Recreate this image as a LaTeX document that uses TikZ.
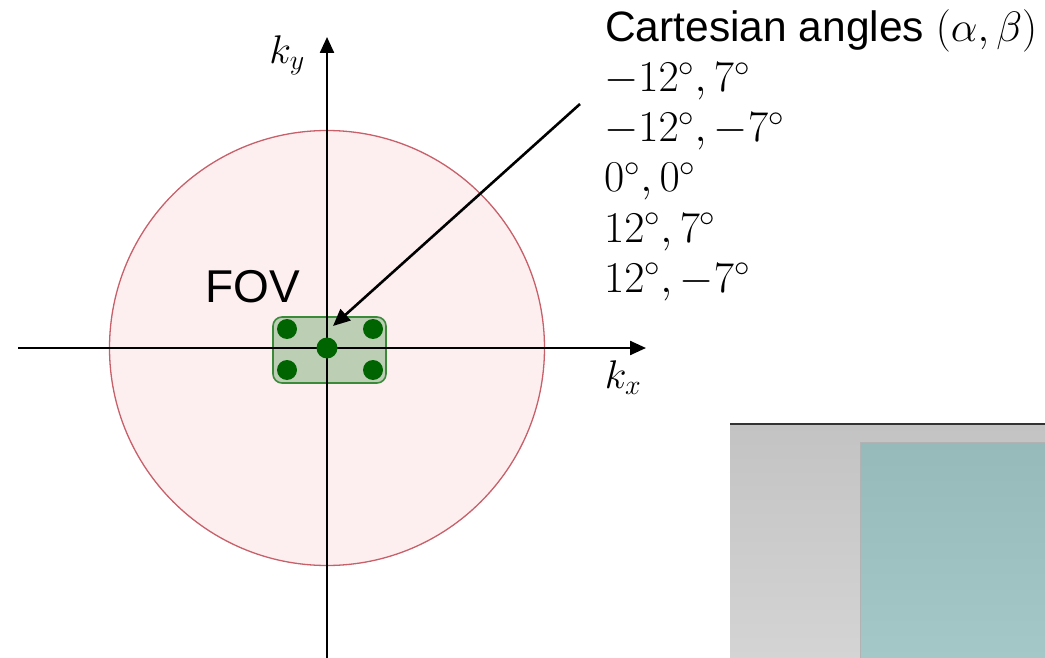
\documentclass[tikz,border=0pt]{standalone}
\usepackage{fix-cm}
\usepackage{fontspec}
\setsansfont{Liberation Sans}
\usetikzlibrary{arrows.meta}
\definecolor{fovfill}{HTML}{FDEEF0}
\definecolor{fovline}{HTML}{C8606A}
\definecolor{boxfill}{HTML}{BCCFB5}
\definecolor{boxline}{HTML}{3A8A3A}
\definecolor{dotgreen}{HTML}{006400}
\definecolor{graytop}{HTML}{C3C3C3}
\definecolor{graybot}{HTML}{D4D4D4}
\definecolor{tealtop}{HTML}{96BABA}
\definecolor{tealbot}{HTML}{A4C7C7}
\tikzset{
  axis/.style={line width=2.4pt, -{Triangle[length=16pt,width=14pt]}},
  pointer/.style={line width=2.6pt, -{Triangle[length=17pt,width=15pt]}},
  dot/.style={circle, fill=dotgreen, inner sep=0pt, minimum size=#1},
  lbl/.style={font=\fontsize{40}{48}\selectfont, inner sep=0pt},
  angl/.style={font=\fontsize{44}{50}\selectfont, inner sep=0pt, anchor=base west},
}
\begin{document}
\begin{tikzpicture}[x=1pt,y=-1pt]
\useasboundingbox (0,0) rectangle (1045,658);
% FOV circle
\node[circle, draw=fovline, fill=fovfill, line width=1.3pt, minimum size=435pt, inner sep=0pt] (fov) at (327,348) {};
% axes
\coordinate (xs) at (18,348);
\coordinate (xe) at (646,348);
\coordinate (ys) at (327,658);
\coordinate (ye) at (327,37);
% green box
\node[draw=boxline, fill=boxfill, line width=1.6pt, rounded corners=9pt, minimum width=113pt, minimum height=66pt, inner sep=0pt] (box) at (329.5,350) {};
\draw[axis] (xs) -- (xe);
\draw[axis] (ys) -- (ye);
\node[dot=21pt] (c0) at (327,348) {};
\node[dot=20pt] (c1) at (287,329) {};
\node[dot=20pt] (c2) at (373,329) {};
\node[dot=20pt] (c3) at (287,370) {};
\node[dot=20pt] (c4) at (373,370) {};
% labels
\node[lbl] (ky) at (287,55) {$k_y$};
\node[lbl] (kx) at (623,378) {$k_x$};
\node[lbl, font=\sffamily\fontsize{46}{52}\selectfont, anchor=base] (fovl) at (252.5,302) {FOV};
% text block
\node[angl, font=\sffamily\fontsize{42.5}{50}\selectfont] (t0) at (605,42) {Cartesian angles $(\alpha,\beta)$};
\node[angl] (t1) at (604,92) {$-12^\circ,7^\circ$};
\node[angl] (t2) at (604,142) {$-12^\circ,-7^\circ$};
\node[angl] (t3) at (604,192) {$0^\circ,0^\circ$};
\node[angl] (t4) at (604,242) {$12^\circ,7^\circ$};
\node[angl] (t5) at (604,292) {$12^\circ,-7^\circ$};
% pointer arrow
\coordinate (ps) at (580,104);
\coordinate (pe) at (333,326);
\draw[pointer] (ps) -- (pe);
% bottom-right screenshot fragment
\shade[top color=graytop, bottom color=graybot] (730,424) rectangle (1045,658);
\draw[line width=2pt, draw=black!80] (730,424) -- (1045,424);
\shade[top color=tealtop, bottom color=tealbot, draw=gray!70] (860,442) rectangle (1046,659);
\draw[gray!60, line width=1pt] (860,659) -- (860,442) -- (1046,442);
\end{tikzpicture}
\end{document}
